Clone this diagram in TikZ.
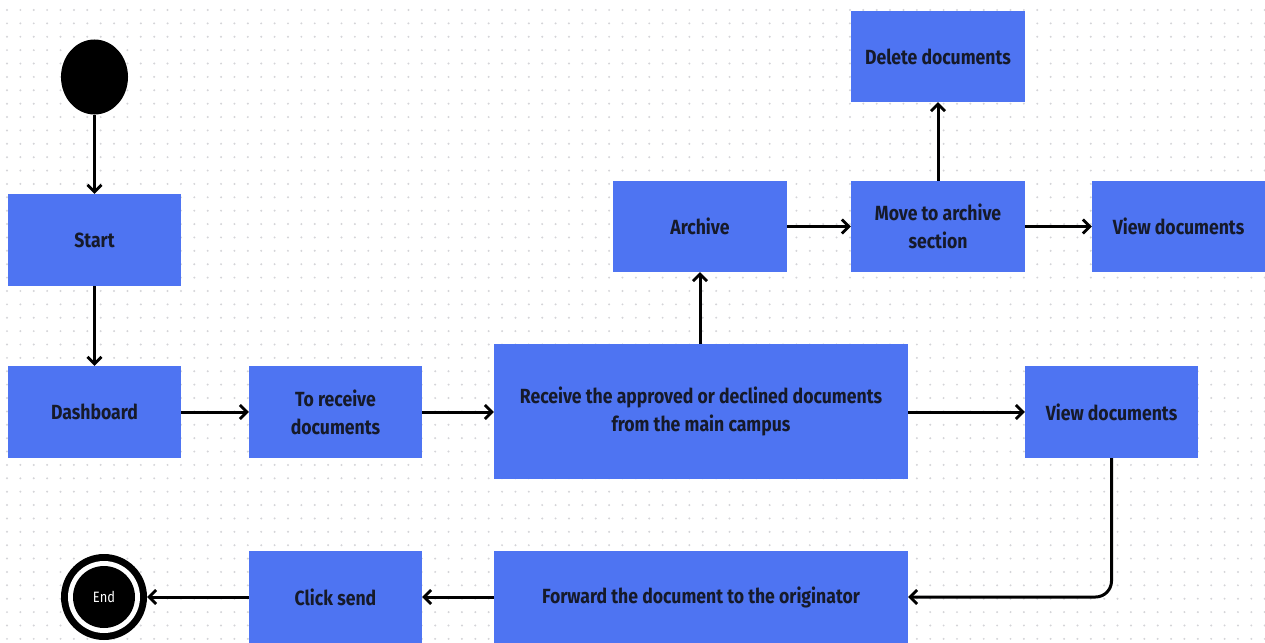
\documentclass[tikz,border=0pt]{standalone}
\usepackage{fontspec}
\setmainfont{Fira Sans}[FakeStretch=0.86]
\usetikzlibrary{arrows.meta,shapes.geometric}
\definecolor{boxblue}{RGB}{78,116,242}
\definecolor{boxtext}{RGB}{22,26,42}
\definecolor{griddot}{RGB}{212,212,216}
\tikzset{
  stepbox/.style={draw=none, fill=boxblue, text=boxtext, font=\fontsize{20.5}{28}\selectfont\bfseries,
    align=center, inner sep=0pt},
  flow/.style={line width=3pt, -{Straight Barb[length=7pt,width=14pt,line width=2.8pt]}},
}
\begin{document}
\begin{tikzpicture}[x=1pt,y=-1pt]
\useasboundingbox (0,0) rectangle (1265,642);
\fill[white] (0,0) rectangle (1265,642);
% dotted canvas
\foreach \i in {0,...,94}{
  \foreach \j in {0,...,47}{
    \fill[griddot] (7+\i*13.38, 10+\j*13.38) circle (1.1);
  }
}
% initial state
\node[fill=black, ellipse, minimum width=67, minimum height=75, inner sep=0pt] (init) at (94.5,77) {};
% boxes
\node[stepbox, minimum width=173, minimum height=92] (start) at (94.5,240) {Start};
\node[stepbox, minimum width=173, minimum height=92] (dash) at (94.5,412) {Dashboard};
\node[stepbox, minimum width=173, minimum height=92] (torecv) at (335.5,412) {To receive\\documents};
\node[stepbox, minimum width=414, minimum height=135] (recv) at (701,411.5) {Receive the approved or declined documents\\from the main campus};
\node[stepbox, minimum width=173, minimum height=92] (view1) at (1111.5,412) {View documents};
\node[stepbox, minimum width=174, minimum height=91] (arch) at (700,226.5) {Archive};
\node[stepbox, minimum width=174, minimum height=91] (move) at (938,226.5) {Move to archive\\section};
\node[stepbox, minimum width=174, minimum height=91] (del) at (938,56.5) {Delete documents};
\node[stepbox, minimum width=173, minimum height=91] (view2) at (1178.5,226.5) {View documents};
\node[stepbox, minimum width=414, minimum height=92] (fwd) at (701,597) {Forward the document to the originator};
\node[stepbox, minimum width=173, minimum height=92] (send) at (335.5,597) {Click send};
% final state
\node[circle, fill=black, minimum size=86, inner sep=0pt] (endst) at (104,597) {};
\fill[white] (endst.center) circle (36);
\node[circle, fill=black, minimum size=62, inner sep=0pt, text=white,
  font=\fontsize{15}{17}\selectfont] at (endst.center) {End};
% connectors
\draw[flow] (init.south) -- (start.north);
\draw[flow] (start.south) -- (dash.north);
\draw[flow] (dash.east) -- (torecv.west);
\draw[flow] (torecv.east) -- (torecv.east -| recv.west);
\draw[flow] (recv.east |- view1.west) -- (view1.west);
\draw[flow] (arch.south |- recv.north) -- (arch.south);
\draw[flow] (arch.east) -- (move.west);
\draw[flow] (move.north) -- (del.south);
\draw[flow] (move.east) -- (view2.west);
\draw[flow, rounded corners=16] (view1.south) |- (fwd.east);
\draw[flow] (fwd.west) -- (send.east);
\draw[flow] (send.west) -- (endst.east);
\end{tikzpicture}
\end{document}
